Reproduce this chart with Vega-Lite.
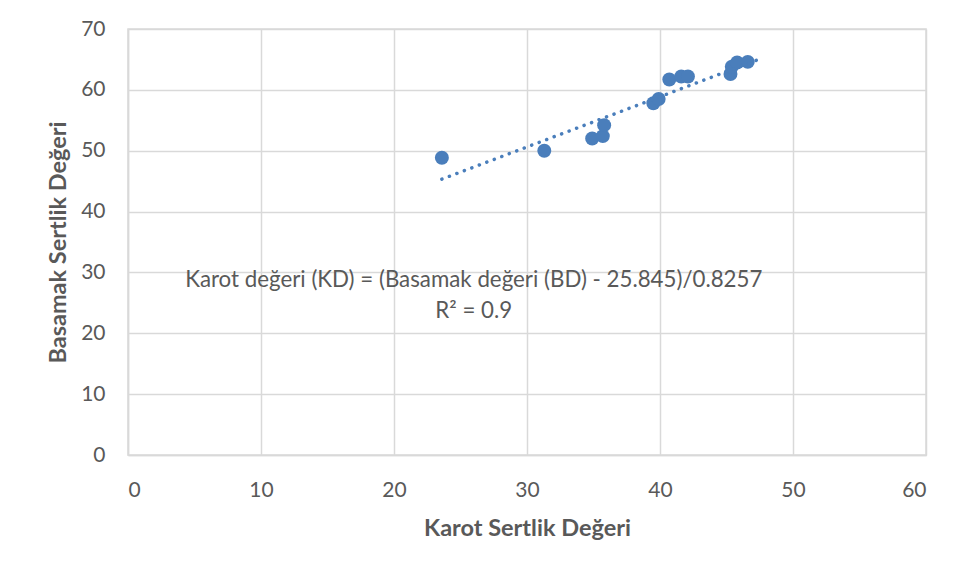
{
  "$schema": "https://vega.github.io/schema/vega-lite/v6.json",
  "width": 798,
  "height": 426,
  "autosize": "none",
  "padding": {"left": 128, "top": 29, "right": 32, "bottom": 123},
  "background": "white",
  "config": {
    "font": "Lato",
    "view": {"stroke": "#d9d9d9", "strokeWidth": 1.5},
    "axis": {
      "labelFont": "Lato",
      "labelFontSize": 21,
      "labelColor": "#595959",
      "ticks": false,
      "tickSize": 0,
      "domainColor": "#d9d9d9",
      "domainWidth": 1.5,
      "gridColor": "#d9d9d9",
      "gridWidth": 1.5,
      "titleFont": "Lato",
      "titleFontSize": 23.5,
      "titleFontWeight": "bold",
      "titleColor": "#595959"
    }
  },
  "datasets": {
    "points": [
      {"KD": 23.6, "BD": 48.85},
      {"KD": 31.3, "BD": 50.0},
      {"KD": 34.9, "BD": 52.0},
      {"KD": 35.7, "BD": 52.4},
      {"KD": 35.8, "BD": 54.2},
      {"KD": 39.5, "BD": 57.8},
      {"KD": 39.9, "BD": 58.5},
      {"KD": 40.7, "BD": 61.7},
      {"KD": 41.6, "BD": 62.2},
      {"KD": 42.1, "BD": 62.2},
      {"KD": 45.3, "BD": 62.6},
      {"KD": 45.4, "BD": 63.8},
      {"KD": 45.8, "BD": 64.5},
      {"KD": 46.6, "BD": 64.6}
    ],
    "trend": [
      {"KD": 23.6, "BD": 45.33},
      {"KD": 47.6, "BD": 65.15}
    ],
    "labels": [
      {"KD": 26.0, "BD": 27.55, "label": "Karot değeri (KD) = (Basamak değeri (BD)  - 25.845)/0.8257"},
      {"KD": 26.0, "BD": 22.46, "label": "R² = 0.9"}
    ]
  },
  "layer": [
    {
      "data": {"name": "points"},
      "mark": {"type": "point", "filled": true, "size": 195, "color": "#4a7ebb", "opacity": 1},
      "encoding": {
        "x": {
          "field": "KD", "type": "quantitative",
          "scale": {"domain": [0, 60], "nice": false, "zero": true},
          "axis": {"values": [0, 10, 20, 30, 40, 50, 60], "title": "Karot Sertlik Değeri", "labelPadding": 24, "titlePadding": 16}
        },
        "y": {
          "field": "BD", "type": "quantitative",
          "scale": {"domain": [0, 70], "nice": false},
          "axis": {"values": [0, 10, 20, 30, 40, 50, 60, 70], "title": "Basamak Sertlik Değeri", "labelPadding": 23, "titlePadding": 10}
        }
      }
    },
    {
      "data": {"name": "trend"},
      "mark": {"type": "line", "strokeDash": [0.1, 7.9], "strokeCap": "round", "strokeWidth": 3.5, "color": "#4a7ebb"},
      "encoding": {
        "x": {"field": "KD", "type": "quantitative"},
        "y": {"field": "BD", "type": "quantitative"}
      }
    },
    {
      "data": {"name": "labels"},
      "mark": {"type": "text", "align": "center", "baseline": "alphabetic", "fontSize": 22.3, "color": "#595959", "font": "Lato"},
      "encoding": {
        "x": {"field": "KD", "type": "quantitative"},
        "y": {"field": "BD", "type": "quantitative"},
        "text": {"field": "label"}
      }
    }
  ]
}
